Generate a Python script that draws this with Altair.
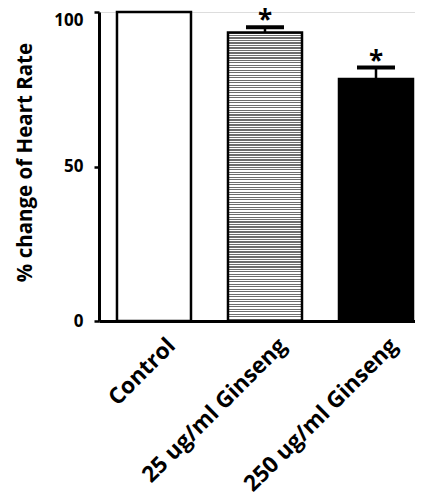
import altair as alt
import pandas as pd

categories = ["Control", "25 ug/ml Ginseng", "250 ug/ml Ginseng"]
means = [100, 93.4, 78.3]
err_upper = [None, 95.1, 82.0]
stars = ["", "*", "*"]
y_ticks = [0, 50, 100]

df = pd.DataFrame({"cat": categories, "mean": means, "upper": err_upper, "star": stars})

FONT = "Open Sans"

# horizontal stripe fill for the middle bar (style only)
n_stripes = 116
stops = []
for i in range(n_stripes):
    a = i / n_stripes
    b = (i + 0.5) / n_stripes
    c = (i + 1) / n_stripes
    stops += [
        alt.GradientStop(offset=a, color="#6e6e6e"),
        alt.GradientStop(offset=b, color="#6e6e6e"),
        alt.GradientStop(offset=b, color="#ffffff"),
        alt.GradientStop(offset=c, color="#ffffff"),
    ]
stripes = alt.LinearGradient(gradient="linear", stops=stops, x1=0, x2=0, y1=0, y2=1)

xscale = alt.Scale(paddingInner=0.3333, paddingOuter=0.09, align=0.9)
xaxis = alt.Axis(
    title=None, labelAngle=-45, labelAlign="right", labelBaseline="top",
    labelFontSize=22.5, labelFontWeight="bold", labelColor="black", labelFont=FONT,
    labelPadding=13, labelOffset=10, labelLimit=0, labelOverlap=False,
    ticks=False, grid=False, domainColor="black", domainWidth=3,
)
xenc = alt.X("cat:N", sort=categories, scale=xscale, axis=xaxis)

yscale = alt.Scale(domain=[0, 100], nice=False)
yaxis = alt.Axis(
    title="% change of Heart Rate", titleFont=FONT, titleFontSize=20.5,
    titleFontWeight="bold", titleColor="black", titleAngle=270, titleAlign="center",
    titleBaseline="middle", titleX=-74, titleY=150, values=y_ticks, grid=False,
    labelFont=FONT, labelFontSize=17, labelFontWeight="bold", labelColor="black",
    labelPadding=11,
    labelBaseline=alt.ConditionalAxisLabelBaseline(
        condition={"test": "datum.value == 100", "value": "top"}, value="middle"
    ),
    tickSize=5, tickWidth=2.5, tickColor="black", domainColor="black", domainWidth=3,
)
yenc = alt.Y("mean:Q", scale=yscale, axis=yaxis)

base = alt.Chart(df)

bar_ctrl = base.transform_filter(f"datum.cat == '{categories[0]}'").mark_bar(
    fill="white", stroke="black", strokeWidth=2.5
).encode(x=xenc, y=yenc)
bar_25 = base.transform_filter(f"datum.cat == '{categories[1]}'").mark_bar(
    fill=stripes, stroke="black", strokeWidth=2.5
).encode(x=xenc, y=yenc)
bar_250 = base.transform_filter(f"datum.cat == '{categories[2]}'").mark_bar(
    fill="black", stroke="black", strokeWidth=2.5
).encode(x=xenc, y=yenc)

err = base.transform_filter("datum.upper > 0").mark_rule(
    color="black", strokeWidth=2.5
).encode(x=xenc, y=alt.Y("mean:Q", scale=yscale, axis=yaxis), y2="upper:Q")

cap = base.transform_filter("datum.upper > 0").mark_tick(
    color="black", size=38, thickness=4, orient="horizontal", opacity=1
).encode(x=xenc, y=alt.Y("upper:Q", scale=yscale, axis=yaxis))

star = base.transform_filter("datum.star != ''").mark_text(
    font=FONT, fontSize=26, fontWeight="bold", color="black", baseline="alphabetic", dy=2
).encode(x=xenc, y=alt.Y("upper:Q", scale=yscale, axis=yaxis), text="star:N")

chart = (
    alt.layer(bar_ctrl, bar_25, bar_250, err, cap, star)
    .properties(
        width=316,
        height=309,
        autosize=alt.AutoSizeParams(type="none"),
        padding={"left": 91, "top": 4, "right": 0, "bottom": 176},
    )
    .configure_view(strokeWidth=0)
    .configure_axis(grid=False)
    .configure(font=FONT)
)

chart.save("out.html", embed_options={"renderer": "svg", "actions": False})
